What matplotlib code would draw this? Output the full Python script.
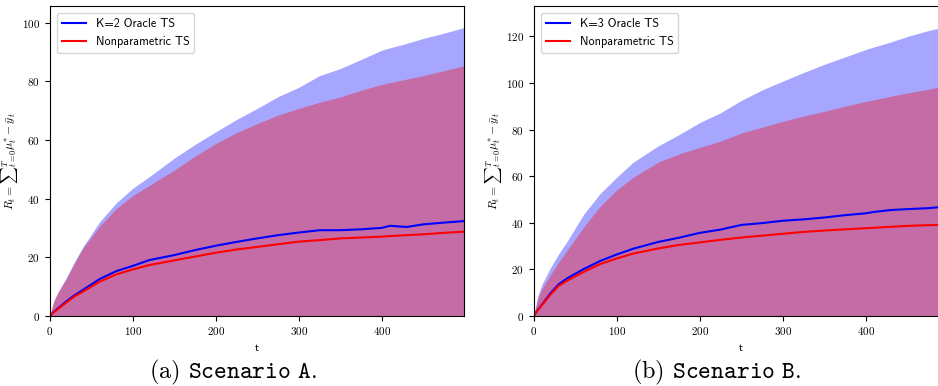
import matplotlib
matplotlib.use("Agg")
import matplotlib.pyplot as plt

plt.rcParams.update({
    "mathtext.fontset": "cm",
    "axes.formatter.use_mathtext": True,
    "font.family": "cmr10",
    "axes.unicode_minus": False,
})

t = [0, 5, 10, 20, 30, 40, 60, 80, 100, 120, 150, 175, 200, 225, 250, 275, 300,
     325, 350, 375, 400, 410, 430, 450, 475, 499]

# Scenario A
a_oracle_mean = [0, 1.3, 2.5, 4.9, 7.0, 8.8, 12.5, 15.2, 17.0, 19.0, 20.7, 22.4, 23.9, 25.2,
                 26.4, 27.5, 28.4, 29.2, 29.2, 29.5, 30.0, 30.7, 30.3, 31.2, 31.8, 32.3]
a_np_mean = [0, 1.2, 2.3, 4.5, 6.6, 8.2, 11.6, 14.1, 15.8, 17.3, 18.9, 20.2, 21.5, 22.6,
             23.5, 24.4, 25.3, 25.8, 26.4, 26.7, 27.0, 27.2, 27.5, 27.8, 28.3, 28.7]
a_oracle_upper = [0, 5.0, 8.0, 13.0, 18.5, 23.5, 32.0, 38.5, 43.5, 47.5, 53.8, 58.5, 62.8, 67.0,
                  70.8, 74.8, 78.0, 82.0, 84.4, 87.5, 90.7, 91.5, 93.0, 94.7, 96.5, 98.4]
a_np_upper = [0, 5.0, 8.0, 12.5, 18.0, 23.0, 30.5, 36.5, 41.0, 44.5, 49.7, 54.5, 58.8, 62.5,
              65.6, 68.5, 70.8, 72.9, 74.7, 77.0, 79.0, 79.6, 80.8, 82.0, 83.7, 85.3]

# Scenario B
b_oracle_mean = [0, 2.5, 4.8, 9.5, 13.5, 16.0, 20.0, 23.5, 26.3, 28.8, 31.7, 33.5, 35.6, 37.0,
                 39.0, 39.8, 40.8, 41.4, 42.2, 43.2, 44.0, 44.6, 45.4, 45.8, 46.2, 47.0]
b_np_mean = [0, 2.4, 4.6, 9.0, 12.8, 15.0, 18.8, 22.2, 24.6, 26.7, 28.9, 30.4, 31.5, 32.6,
             33.6, 34.4, 35.2, 36.0, 36.6, 37.1, 37.6, 37.8, 38.2, 38.6, 38.9, 39.1]
b_oracle_upper = [0, 8.5, 13.5, 20.5, 26.5, 31.8, 43.5, 52.5, 59.5, 66.0, 73.0, 77.8, 83.0, 87.2,
                  92.5, 97.0, 100.8, 104.5, 108.0, 111.2, 114.4, 115.5, 117.6, 120.0, 122.5, 124.5]
b_np_upper = [0, 7.5, 11.5, 17.5, 23.0, 28.0, 38.0, 47.0, 54.0, 59.5, 66.0, 69.5, 72.3, 75.0,
              78.5, 81.0, 83.5, 85.8, 87.8, 90.0, 92.1, 92.8, 94.3, 95.7, 97.3, 99.0]

panels = [
    ("K=2 Oracle TS", a_oracle_mean, a_oracle_upper, a_np_mean, a_np_upper, 105.7,
     r"(a) $\mathtt{Scenario\ A.}$"),
    ("K=3 Oracle TS", b_oracle_mean, b_oracle_upper, b_np_mean, b_np_upper, 133.0,
     r"(b) $\mathtt{Scenario\ B.}$"),
]

fig = plt.figure(figsize=(9.38, 3.86), dpi=100)
lefts = [49.7 / 938, 533.7 / 938]
width = 414.3 / 938
bottom = 1 - 315.7 / 386
height = (315.7 - 6.2) / 386

for left, (oracle_label, om, ou, nm, nu, ytop, caption) in zip(lefts, panels):
    ax = fig.add_axes([left, bottom, width, height])
    ax.fill_between(t, 0, ou, color="blue", alpha=0.35, linewidth=0)
    ax.fill_between(t, 0, nu, color="red", alpha=0.35, linewidth=0)
    ax.plot(t, om, color="blue", lw=1.5, label=oracle_label)
    ax.plot(t, nm, color="red", lw=1.5, label="Nonparametric TS")
    ax.set_xlim(0, 499)
    ax.set_ylim(0, ytop)
    ax.set_xticks([0, 100, 200, 300, 400])
    ax.tick_params(labelsize=8, length=3.5, width=0.8)
    ax.set_xlabel("t", fontsize=8, family="cmss10", labelpad=4)
    ax.set_ylabel(r"$R_t = {\sum}_{t=0}^{T}\mu_t^{*} - \bar{y}_t$", fontsize=8.5)
    ax.yaxis.set_label_coords(-0.072, 0.5)
    ax.legend(loc="upper left", prop={"family": "cmss10", "size": 8.7},
              handlelength=2.0, borderaxespad=0.6)
    fig.text(left + width / 2 - 0.0255, 1 - 372 / 386, caption, ha="center", va="center",
             fontsize=17.5)

fig.savefig("out.png", dpi=100)
